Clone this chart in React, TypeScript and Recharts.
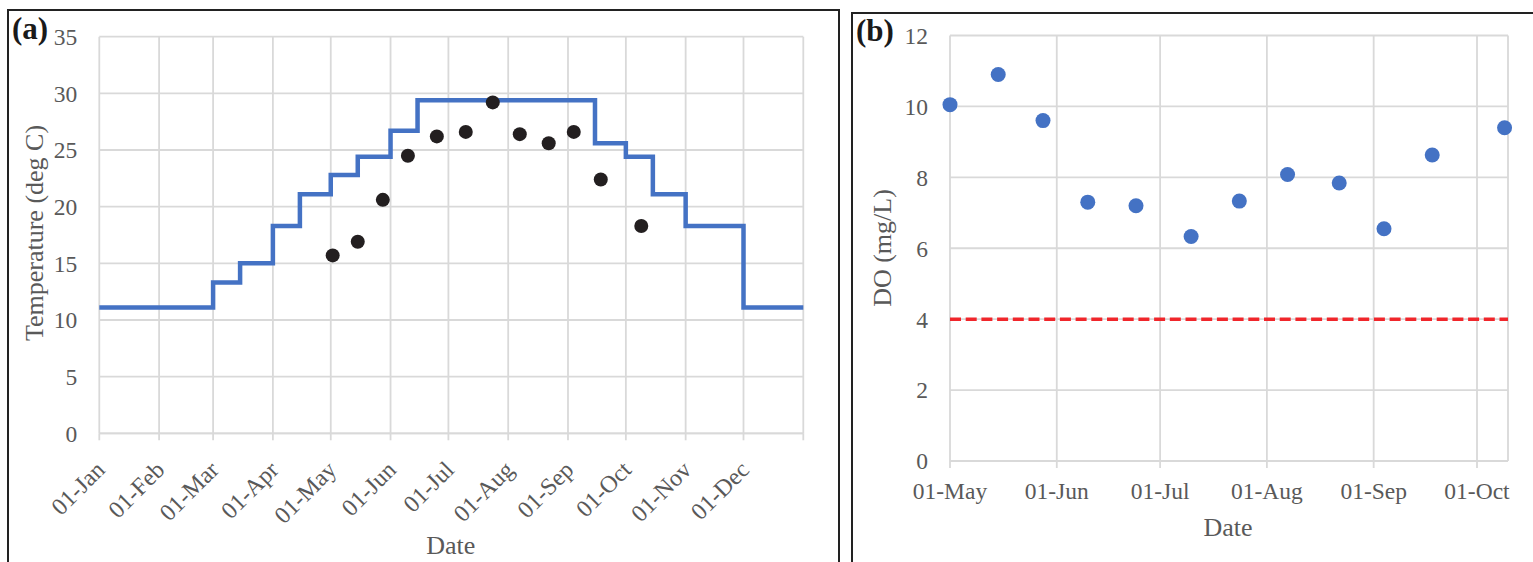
import React from "react";
import { ComposedChart, Line, Scatter, XAxis, YAxis, CartesianGrid, ReferenceLine } from "recharts";

// (a) day of year, 0 = 01-Jan
const monthTicks = [0, 31, 59, 90, 120, 151, 181, 212, 243, 273, 304, 334, 365];
const monthLabels = ["01-Jan", "01-Feb", "01-Mar", "01-Apr", "01-May", "01-Jun", "01-Jul", "01-Aug", "01-Sep", "01-Oct", "01-Nov", "01-Dec", ""];
const tempTicks = [0, 5, 10, 15, 20, 25, 30, 35];

// stepped temperature criterion
const stepDays = [0, 59, 73, 90, 104, 120, 134, 151, 165, 257, 273, 287, 304, 334, 365];
const stepTemps = [11.1, 13.3, 15.0, 18.3, 21.1, 22.8, 24.4, 26.7, 29.4, 25.6, 24.4, 21.1, 18.3, 11.1, 11.1];

// observed temperatures
const obsDays = [121, 134, 147, 160, 175, 190, 204, 218, 233, 246, 260, 281];
const obsTemps = [15.7, 16.9, 20.6, 24.5, 26.2, 26.6, 29.2, 26.4, 25.6, 26.6, 22.4, 18.3];

// (b) days since 01-May
const doTicks = [0, 31, 61, 92, 123, 153];
const doTickLabels = ["01-May", "01-Jun", "01-Jul", "01-Aug", "01-Sep", "01-Oct"];
const doDays = [0, 14, 27, 40, 54, 70, 84, 98, 113, 126, 140, 161];
const doValues = [10.05, 10.9, 9.6, 7.3, 7.2, 6.33, 7.33, 8.08, 7.84, 6.55, 8.63, 9.4];
const doAxisTicks = [0, 2, 4, 6, 8, 10, 12];
const doThreshold = 4;

const stepData = stepDays.map((day, i) => ({ day, temp: stepTemps[i] }));
const obsData = obsDays.map((day, i) => ({ day, temp: obsTemps[i] }));
const doData = doDays.map((day, i) => ({ day, value: doValues[i] }));

const serif = "'Liberation Serif', 'Times New Roman', serif";
const gray = "#595959";
const grid = "#d9d9d9";
const blue = "#4472C4";

const RotatedTick = (props: any) => {
  const { x, y, payload } = props;
  const label = monthLabels[monthTicks.indexOf(payload.value)];
  if (!label) return <g />;
  const ax = x + 7;
  const ay = y + 10;
  return (
    <text x={ax} y={ay} transform={`rotate(-45 ${ax} ${ay})`} textAnchor="end" fill={gray} fontSize={24} fontFamily={serif}>
      {label}
    </text>
  );
};

const TempChart = () => (
  <ComposedChart width={840} height={562} margin={{ top: 36.7, right: 36.7, bottom: 0, left: 0 }}>
    <CartesianGrid stroke={grid} strokeWidth={1.8} />
    <XAxis
      type="number"
      dataKey="day"
      domain={[0, 365]}
      ticks={monthTicks}
      interval={0}
      height={128.7}
      stroke={grid}
      strokeWidth={1.8}
      tickSize={7}
      tickMargin={21}
      tick={<RotatedTick />}
      label={{ content: () => <text x={450.8} y={554} textAnchor="middle" fill={gray} fontSize={26} fontFamily={serif}>Date</text> }}
    />
    <YAxis
      type="number"
      domain={[0, 35]}
      ticks={tempTicks}
      width={99.3}
      axisLine={false}
      tickLine={false}
      tickSize={0}
      tickMargin={22}
      tick={{ fill: gray, fontSize: 23.5, fontFamily: serif }}
      label={{ content: () => <text transform="translate(43 233) rotate(-90)" textAnchor="middle" fill={gray} fontSize={26} fontFamily={serif}>Temperature (deg C)</text> }}
    />
    <Line data={stepData} dataKey="temp" type="stepAfter" stroke={blue} strokeWidth={4.5} dot={false} isAnimationActive={false} />
    <Scatter
      data={obsData}
      dataKey="temp"
      fill="#231f20"
      isAnimationActive={false}
      shape={(p: any) => <circle cx={p.cx} cy={p.cy} r={7} fill="#231f20" />}
    />
  </ComposedChart>
);

const DoChart = () => (
  <ComposedChart width={693} height={562} margin={{ top: 35.5, right: 25, bottom: 0, left: 0 }}>
    <CartesianGrid stroke={grid} strokeWidth={1.8} />
    <XAxis
      type="number"
      dataKey="day"
      domain={[0, 162]}
      ticks={doTicks}
      interval={0}
      height={101}
      stroke={grid}
      strokeWidth={1.8}
      tickSize={7}
      tickMargin={14}
      tickFormatter={(v: number) => doTickLabels[doTicks.indexOf(v)] ?? ""}
      tick={{ fill: gray, fontSize: 23.5, fontFamily: serif }}
      label={{ content: () => <text x={388} y={536} textAnchor="middle" fill={gray} fontSize={26} fontFamily={serif}>Date</text> }}
    />
    <YAxis
      type="number"
      domain={[0, 12]}
      ticks={doAxisTicks}
      width={110}
      axisLine={false}
      tickLine={false}
      tickSize={0}
      tickMargin={22}
      tick={{ fill: gray, fontSize: 23.5, fontFamily: serif }}
      label={{ content: () => <text transform="translate(51 248) rotate(-90)" textAnchor="middle" fill={gray} fontSize={26} fontFamily={serif}>DO (mg/L)</text> }}
    />
    <ReferenceLine y={doThreshold} stroke="#f0262b" strokeWidth={3.5} strokeDasharray="11 4.7" />
    <Scatter
      data={doData}
      dataKey="value"
      fill={blue}
      isAnimationActive={false}
      shape={(p: any) => <circle cx={p.cx} cy={p.cy} r={7.5} fill={blue} />}
    />
  </ComposedChart>
);

export default function App() {
  return (
    <div style={{ position: "absolute", left: 0, top: 0, width: 1533, height: 562, overflow: "hidden", background: "#fff", fontFamily: serif }}>
      <div style={{ position: "absolute", left: 7, top: 9, width: 833, height: 600, border: "2px solid #222", boxSizing: "border-box" }} />
      <div style={{ position: "absolute", left: 851, top: 12, width: 700, height: 600, border: "2px solid #222", boxSizing: "border-box" }} />
      <div style={{ position: "absolute", left: 0, top: 0 }}>
        <TempChart />
      </div>
      <div style={{ position: "absolute", left: 840, top: 0 }}>
        <DoChart />
      </div>
      <svg style={{ position: "absolute", left: 0, top: 0, pointerEvents: "none" }} width={1533} height={60}>
        <text x={12} y={38.5} fontSize={31} fontWeight="bold" fontFamily={serif} fill="#1a1a1a">(a)</text>
        <text x={856} y={41} fontSize={31} fontWeight="bold" fontFamily={serif} fill="#1a1a1a">(b)</text>
      </svg>
    </div>
  );
}
